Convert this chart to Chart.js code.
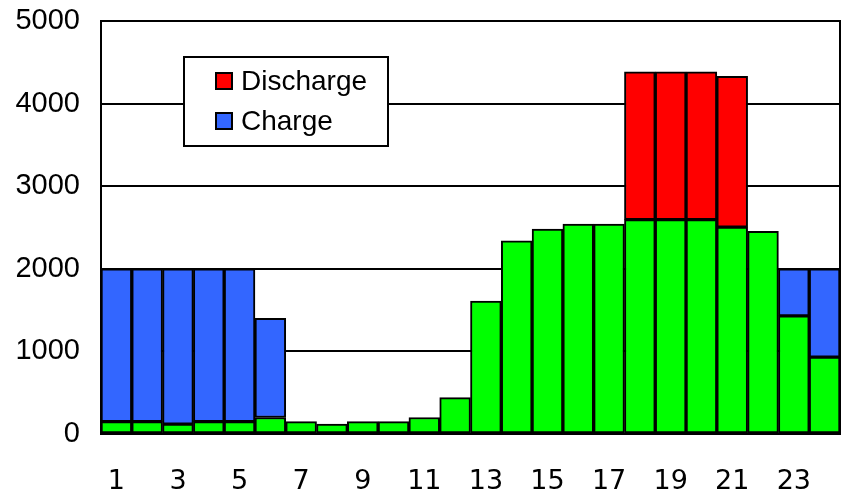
<!DOCTYPE html>
<html lang="en">
<head>
    <meta charset="UTF-8">
    <title>Charge / Discharge</title>
    <script src="https://cdn.jsdelivr.net/npm/chart.js"></script>
    <style>
        body { margin: 0; background: #fff; }
        #wrap { width: 848px; height: 494px; }
    </style>
</head>
<body>
    <div id="wrap">
        <canvas id="loadChart" width="848" height="494"></canvas>
    </div>

    <script>
        // hourly values
        const hours = ['1','2','3','4','5','6','7','8','9','10','11','12','13','14','15','16','17','18','19','20','21','22','23','24'];
        const baseLoad = [150,150,120,150,150,200,150,120,150,150,200,440,1610,2340,2480,2540,2540,2595,2595,2595,2505,2455,1430,930];
        const charge = [1850,1850,1880,1850,1850,1200,null,null,null,null,null,null,null,null,null,null,null,null,null,null,null,null,570,1070];
        const discharge = [null,null,null,null,null,null,null,null,null,null,null,null,null,null,null,null,null,1790,1790,1790,1825,null,null,null];
        const yTicks = [0,1000,2000,3000,4000,5000];

        // box around plot + boxed legend
        const frame = {
            id: 'frame',
            afterDatasetsDraw(chart) {
                const a = chart.chartArea, ctx = chart.ctx;
                ctx.save();
                ctx.strokeStyle = '#000';
                ctx.lineWidth = 2;
                ctx.strokeRect(a.left, a.top, a.right - a.left, a.bottom - a.top);
                ctx.restore();
            },
            afterDraw(chart) {
                const ctx = chart.ctx;
                ctx.save();
                ctx.fillStyle = '#fff';
                ctx.fillRect(184, 57, 204, 89);
                ctx.strokeStyle = '#000';
                ctx.lineWidth = 2;
                ctx.strokeRect(184, 57, 204, 89);
                const items = chart.data.datasets.filter(d => d.label).reverse();
                ctx.font = '28px "Liberation Sans", Arial, sans-serif';
                ctx.textBaseline = 'middle';
                items.forEach((d, i) => {
                    const cy = 81 + i * 40;
                    ctx.fillStyle = d.backgroundColor;
                    ctx.fillRect(216, cy - 8, 16, 16);
                    ctx.strokeRect(216, cy - 8, 16, 16);
                    ctx.fillStyle = '#000';
                    ctx.fillText(d.label, 241, cy + 1);
                });
                ctx.restore();
            }
        };

        new Chart(document.getElementById('loadChart').getContext('2d'), {
            type: 'bar',
            data: {
                labels: hours,
                datasets: [
                    { label: '', data: baseLoad, backgroundColor: '#00FF00' },
                    { label: 'Charge', data: charge, backgroundColor: '#3366FF' },
                    { label: 'Discharge', data: discharge, backgroundColor: '#FF0000' }
                ]
            },
            options: {
                responsive: false,
                animation: false,
                devicePixelRatio: 1,
                layout: { padding: { top: 21, right: 8, left: 0, bottom: 0 } },
                datasets: {
                    bar: {
                        borderColor: '#000',
                        borderWidth: 2,
                        borderSkipped: false,
                        barPercentage: 1,
                        categoryPercentage: 1
                    }
                },
                plugins: {
                    legend: { display: false },
                    tooltip: { enabled: false }
                },
                scales: {
                    x: {
                        stacked: true,
                        grid: { display: false },
                        border: { color: '#000', width: 2 },
                        ticks: {
                            autoSkip: false,
                            maxRotation: 0,
                            padding: 24,
                            color: '#000',
                            font: { family: '"DejaVu Sans"', size: 27 },
                            callback: (v, i) => i % 2 === 0 ? hours[i] : ''
                        },
                        afterFit: s => { s.height = 60; s.paddingLeft = 0; s.paddingRight = 0; }
                    },
                    y: {
                        stacked: true,
                        min: 0,
                        max: 5000,
                        afterBuildTicks: s => { s.ticks = yTicks.map(v => ({ value: v })); },
                        grid: { color: '#000', lineWidth: 2, drawTicks: false },
                        border: { color: '#000', width: 2 },
                        ticks: {
                            padding: 21,
                            color: '#000',
                            font: { family: '"Liberation Sans", Arial', size: 29 },
                            callback: v => String(v)
                        },
                        afterFit: s => { s.width = 101; s.paddingTop = 0; s.paddingBottom = 0; }
                    }
                }
            },
            plugins: [frame]
        });
    </script>
</body>
</html>
